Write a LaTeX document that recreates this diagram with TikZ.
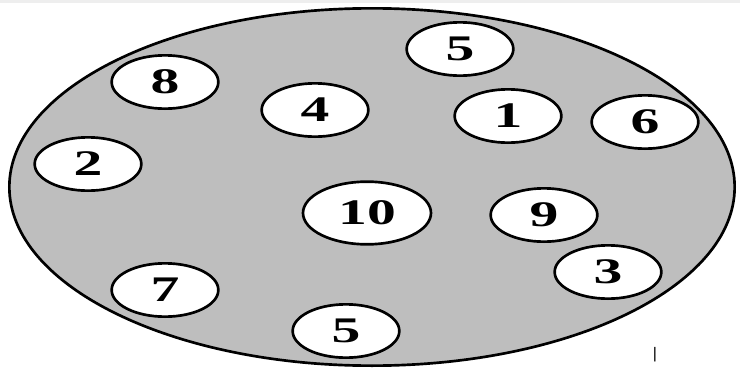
\documentclass[tikz,border=0pt]{standalone}
\usepackage{fontspec}
\setmainfont{Liberation Serif}[FakeStretch=1.6]
\usetikzlibrary{shapes.geometric}
\definecolor{dishgray}{RGB}{190,190,190}
\definecolor{stripgray}{RGB}{238,238,238}

\begin{document}
\begin{tikzpicture}[x=0.75pt,y=-0.75pt,
 dish/.style={draw,ellipse,line width=2pt,fill=dishgray,inner sep=0pt,
   minimum width=544pt,minimum height=268pt},
 cell/.style={draw,ellipse,line width=2pt,fill=white,inner sep=0pt,
   minimum width=80pt,minimum height=40pt,font=\fontsize{27}{27}\selectfont\bfseries},
 bigcell/.style={cell,minimum width=96pt,minimum height=47pt}]
\useasboundingbox (0,0) rectangle (740,368);
\fill[stripgray] (0,0) rectangle (740,3);
\node[dish] (dish) at (372,187) {};
\node[cell] (c5a) at (460,49) {5};
\node[cell] (c8) at (165,82) {8};
\node[cell] (c4) at (315,110) {4};
\node[cell] (c1) at (508,116) {1};
\node[cell] (c6) at (645,122) {6};
\node[cell] (c2) at (88,164) {2};
\node[bigcell] (c10) at (367,213) {10};
\node[cell] (c9) at (544,215) {9};
\node[cell] (c3) at (608,272) {3};
\node[cell] (c7) at (165,290) {7};
\node[cell] (c5b) at (346,331) {5};
\node[font=\fontsize{12}{12}\selectfont] (tick) at (655,355) {|};
\end{tikzpicture}
\end{document}
